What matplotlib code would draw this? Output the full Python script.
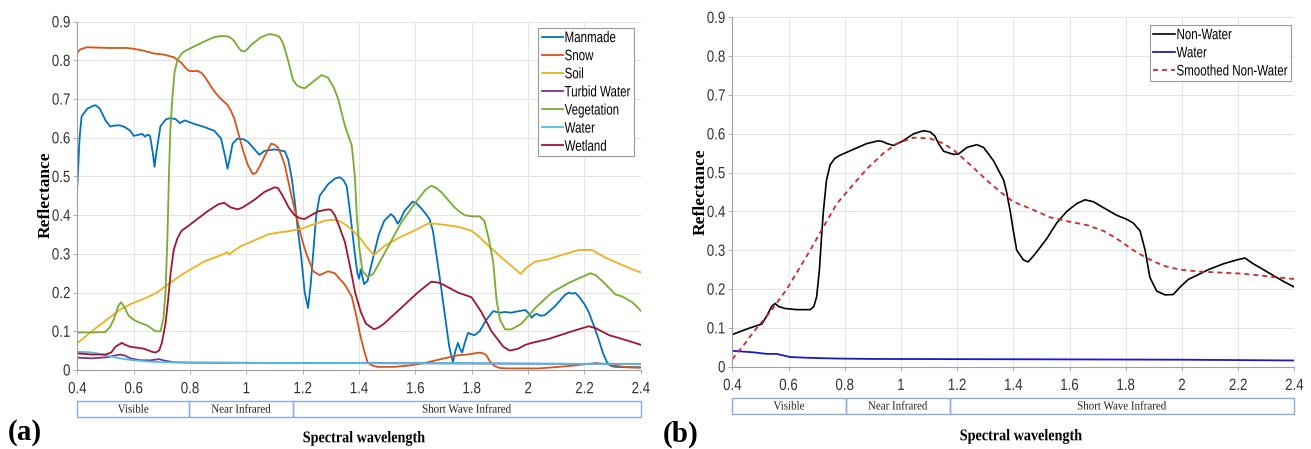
import matplotlib
matplotlib.use("Agg")
import matplotlib.pyplot as plt
import matplotlib.transforms as mtransforms
from matplotlib.patches import Rectangle
from matplotlib.patheffects import AbstractPathEffect

# ---- data ----
manmade_wl = [0.40, 0.408, 0.415, 0.435, 0.457, 0.465, 0.48, 0.50, 0.517, 0.535, 0.552, 0.57, 0.588, 0.60,
              0.612, 0.63, 0.64, 0.65, 0.658, 0.668, 0.674, 0.68, 0.695, 0.715, 0.731, 0.749, 0.764, 0.781,
              0.814, 0.85, 0.886, 0.91, 0.925, 0.933, 0.942, 0.951, 0.969, 0.99, 1.005, 1.029, 1.046, 1.064,
              1.10, 1.136, 1.148, 1.16, 1.171, 1.183, 1.195, 1.207, 1.219, 1.228, 1.237, 1.248, 1.26, 1.29,
              1.315, 1.332, 1.345, 1.356, 1.366, 1.374, 1.385, 1.394, 1.40, 1.406, 1.412, 1.418, 1.43, 1.453,
              1.47, 1.489, 1.513, 1.525, 1.537, 1.548, 1.56, 1.59, 1.605, 1.62, 1.635, 1.65, 1.662, 1.674,
              1.69, 1.703, 1.72, 1.733, 1.742, 1.751, 1.758, 1.766, 1.775, 1.787, 1.80, 1.81, 1.828, 1.852,
              1.876, 1.90, 1.918, 1.94, 1.953, 1.975, 1.989, 2.00, 2.013, 2.022, 2.03, 2.045, 2.06, 2.096,
              2.132, 2.145, 2.156, 2.168, 2.18, 2.20, 2.215, 2.233, 2.25, 2.265, 2.28, 2.295, 2.31, 2.35, 2.40]
manmade = [0.478, 0.60, 0.655, 0.675, 0.683, 0.684, 0.675, 0.645, 0.629, 0.632, 0.632, 0.627, 0.618, 0.605,
           0.607, 0.61, 0.603, 0.608, 0.605, 0.56, 0.525, 0.56, 0.63, 0.648, 0.651, 0.648, 0.638, 0.645,
           0.636, 0.628, 0.618, 0.598, 0.55, 0.52, 0.55, 0.585, 0.598, 0.596, 0.59, 0.57, 0.556, 0.566,
           0.57, 0.565, 0.545, 0.50, 0.44, 0.36, 0.29, 0.20, 0.16, 0.22, 0.30, 0.40, 0.45, 0.48,
           0.495, 0.498, 0.49, 0.475, 0.42, 0.37, 0.30, 0.25, 0.236, 0.26, 0.24, 0.222, 0.23, 0.30,
           0.35, 0.385, 0.403, 0.395, 0.378, 0.39, 0.41, 0.435, 0.43, 0.418, 0.405, 0.39, 0.36, 0.30,
           0.22, 0.15, 0.06, 0.02, 0.05, 0.07, 0.055, 0.045, 0.07, 0.096, 0.092, 0.09, 0.10, 0.13,
           0.152, 0.148, 0.15, 0.148, 0.15, 0.153, 0.155, 0.148, 0.135, 0.142, 0.145, 0.14, 0.142, 0.165,
           0.195, 0.20, 0.197, 0.199, 0.19, 0.17, 0.15, 0.115, 0.08, 0.045, 0.02, 0.01, 0.008, 0.007, 0.007]

snow_wl = [0.40, 0.41, 0.433, 0.47, 0.517, 0.576, 0.60, 0.636, 0.671, 0.707, 0.743, 0.767, 0.785, 0.796,
           0.81, 0.826, 0.84, 0.85, 0.868, 0.886, 0.91, 0.933, 0.945, 0.957, 0.972, 0.987, 1.005, 1.023,
           1.035, 1.05, 1.07, 1.088, 1.10, 1.112, 1.124, 1.136, 1.148, 1.16, 1.183, 1.20, 1.213, 1.237,
           1.26, 1.275, 1.29, 1.314, 1.335, 1.35, 1.374, 1.39, 1.404, 1.418, 1.43, 1.445, 1.465, 1.525,
           1.584, 1.632, 1.703, 1.751, 1.787, 1.81, 1.828, 1.84, 1.852, 1.866, 1.882, 1.90, 1.93, 2.037,
           2.144, 2.203, 2.239, 2.27, 2.299, 2.34, 2.382, 2.40]
snow = [0.82, 0.828, 0.834, 0.833, 0.832, 0.832, 0.83, 0.825, 0.818, 0.815, 0.808, 0.795, 0.78, 0.773,
        0.772, 0.773, 0.768, 0.76, 0.74, 0.72, 0.70, 0.685, 0.67, 0.65, 0.61, 0.57, 0.53, 0.506,
        0.51, 0.53, 0.56, 0.585, 0.582, 0.575, 0.555, 0.53, 0.49, 0.45, 0.38, 0.33, 0.30, 0.255,
        0.245, 0.25, 0.255, 0.25, 0.232, 0.22, 0.19, 0.14, 0.09, 0.05, 0.02, 0.012, 0.008, 0.008,
        0.012, 0.018, 0.03, 0.038, 0.04, 0.043, 0.045, 0.043, 0.038, 0.02, 0.01, 0.005, 0.004, 0.004,
        0.01, 0.015, 0.018, 0.016, 0.012, 0.008, 0.006, 0.006]

soil_wl = [0.40, 0.451, 0.505, 0.55, 0.588, 0.64, 0.683, 0.719, 0.779, 0.85, 0.921, 0.933, 0.94, 0.95,
           0.96, 0.981, 1.029, 1.076, 1.112, 1.148, 1.195, 1.23, 1.255, 1.28, 1.302, 1.325, 1.338, 1.362,
           1.385, 1.404, 1.43, 1.453, 1.47, 1.489, 1.537, 1.596, 1.644, 1.67, 1.703, 1.751, 1.799, 1.825,
           1.846, 1.906, 1.975, 1.99, 2.025, 2.072, 2.132, 2.18, 2.227, 2.25, 2.275, 2.322, 2.37, 2.40]
soil = [0.069, 0.10, 0.13, 0.155, 0.17, 0.185, 0.20, 0.22, 0.25, 0.28, 0.30, 0.305, 0.298, 0.305,
        0.31, 0.32, 0.335, 0.35, 0.355, 0.358, 0.365, 0.374, 0.38, 0.386, 0.388, 0.386, 0.382, 0.37,
        0.355, 0.34, 0.315, 0.297, 0.308, 0.32, 0.34, 0.36, 0.378, 0.378, 0.375, 0.37, 0.36, 0.345,
        0.33, 0.29, 0.248, 0.262, 0.28, 0.286, 0.30, 0.31, 0.31, 0.30, 0.29, 0.275, 0.26, 0.252]

turbid_wl = [0.40, 0.45, 0.505, 0.552, 0.57, 0.588, 0.624, 0.66, 0.69, 0.71, 0.743, 0.80, 1.2, 1.8, 2.4]
turbid = [0.032, 0.03, 0.033, 0.04, 0.037, 0.03, 0.025, 0.025, 0.028, 0.024, 0.02, 0.019, 0.018, 0.017, 0.015]

veg_wl = [0.40, 0.45, 0.499, 0.515, 0.529, 0.545, 0.555, 0.565, 0.582, 0.60, 0.612, 0.648, 0.677, 0.695,
          0.705, 0.713, 0.72, 0.725, 0.73, 0.737, 0.745, 0.755, 0.77, 0.784, 0.826, 0.86, 0.886, 0.91,
          0.933, 0.945, 0.957, 0.97, 0.981, 0.993, 1.005, 1.017, 1.052, 1.082, 1.10, 1.118, 1.13, 1.148,
          1.165, 1.18, 1.195, 1.207, 1.22, 1.237, 1.267, 1.29, 1.31, 1.326, 1.35, 1.374, 1.385, 1.392,
          1.40, 1.412, 1.43, 1.45, 1.489, 1.549, 1.608, 1.635, 1.656, 1.675, 1.691, 1.715, 1.739, 1.755,
          1.775, 1.80, 1.828, 1.845, 1.86, 1.876, 1.888, 1.90, 1.918, 1.941, 1.977, 2.025, 2.084, 2.144,
          2.19, 2.221, 2.24, 2.263, 2.29, 2.31, 2.334, 2.37, 2.40]
veg = [0.097, 0.097, 0.098, 0.11, 0.13, 0.165, 0.175, 0.165, 0.14, 0.13, 0.125, 0.115, 0.10, 0.10,
       0.13, 0.20, 0.35, 0.50, 0.62, 0.70, 0.77, 0.80, 0.818, 0.825, 0.84, 0.852, 0.86, 0.863,
       0.862, 0.858, 0.85, 0.835, 0.825, 0.823, 0.83, 0.84, 0.86, 0.868, 0.866, 0.86, 0.845, 0.80,
       0.75, 0.735, 0.73, 0.728, 0.735, 0.745, 0.762, 0.755, 0.73, 0.70, 0.63, 0.58, 0.50, 0.40,
       0.32, 0.255, 0.241, 0.248, 0.30, 0.38, 0.44, 0.465, 0.476, 0.47, 0.46, 0.44, 0.42, 0.41,
       0.40, 0.397, 0.397, 0.385, 0.34, 0.28, 0.18, 0.13, 0.105, 0.105, 0.12, 0.16, 0.20, 0.225,
       0.24, 0.25, 0.245, 0.23, 0.21, 0.195, 0.19, 0.175, 0.153]

water_wl = [0.40, 0.44, 0.47, 0.517, 0.55, 0.60, 0.65, 0.695, 0.80, 1.2, 1.8, 2.4]
water = [0.047, 0.046, 0.043, 0.035, 0.03, 0.025, 0.022, 0.02, 0.019, 0.018, 0.017, 0.015]

wetland_wl = [0.40, 0.45, 0.50, 0.52, 0.535, 0.558, 0.57, 0.588, 0.636, 0.665, 0.677, 0.69, 0.70, 0.713,
              0.722, 0.731, 0.742, 0.755, 0.77, 0.79, 0.826, 0.862, 0.90, 0.921, 0.945, 0.969, 0.987, 1.029,
              1.064, 1.10, 1.112, 1.125, 1.136, 1.15, 1.171, 1.19, 1.207, 1.23, 1.255, 1.29, 1.30, 1.314,
              1.33, 1.35, 1.37, 1.386, 1.406, 1.424, 1.453, 1.47, 1.489, 1.549, 1.608, 1.656, 1.68, 1.70,
              1.751, 1.799, 1.834, 1.87, 1.912, 1.935, 1.965, 1.99, 2.013, 2.072, 2.156, 2.215, 2.24, 2.287,
              2.334, 2.37, 2.40]
wetland = [0.043, 0.04, 0.04, 0.045, 0.06, 0.07, 0.065, 0.06, 0.055, 0.047, 0.045, 0.05, 0.07, 0.12,
           0.18, 0.25, 0.31, 0.34, 0.36, 0.37, 0.39, 0.41, 0.428, 0.432, 0.42, 0.415, 0.42, 0.44,
           0.46, 0.472, 0.47, 0.455, 0.44, 0.42, 0.40, 0.392, 0.39, 0.40, 0.41, 0.415, 0.414, 0.40,
           0.37, 0.33, 0.26, 0.20, 0.15, 0.12, 0.105, 0.11, 0.12, 0.16, 0.20, 0.228, 0.226, 0.22,
           0.20, 0.188, 0.15, 0.10, 0.06, 0.05, 0.055, 0.065, 0.07, 0.08, 0.10, 0.113, 0.108, 0.09,
           0.08, 0.072, 0.065]

nonwater_wl = [0.40, 0.463, 0.505, 0.522, 0.54, 0.552, 0.565, 0.588, 0.629, 0.677, 0.69, 0.70, 0.71, 0.717,
               0.724, 0.735, 0.748, 0.765, 0.784, 0.831, 0.879, 0.92, 0.935, 0.95, 0.974, 1.003, 1.045, 1.08,
               1.104, 1.12, 1.134, 1.152, 1.187, 1.205, 1.235, 1.27, 1.294, 1.33, 1.366, 1.376, 1.389, 1.40,
               1.412, 1.436, 1.453, 1.477, 1.519, 1.554, 1.59, 1.625, 1.655, 1.685, 1.72, 1.744, 1.768, 1.803,
               1.827, 1.851, 1.869, 1.886, 1.91, 1.94, 1.969, 1.993, 2.023, 2.052, 2.094, 2.147, 2.195, 2.224,
               2.254, 2.29, 2.325, 2.361, 2.40]
nonwater = [0.083, 0.10, 0.11, 0.13, 0.155, 0.163, 0.155, 0.15, 0.147, 0.147, 0.155, 0.18, 0.25, 0.33,
            0.40, 0.48, 0.52, 0.537, 0.545, 0.56, 0.575, 0.582, 0.58, 0.575, 0.57, 0.58, 0.60, 0.608,
            0.605, 0.595, 0.575, 0.555, 0.547, 0.548, 0.565, 0.572, 0.565, 0.53, 0.48, 0.45, 0.40, 0.35,
            0.30, 0.275, 0.27, 0.29, 0.33, 0.37, 0.40, 0.42, 0.43, 0.425, 0.41, 0.40, 0.39, 0.38,
            0.37, 0.35, 0.30, 0.23, 0.195, 0.185, 0.186, 0.205, 0.225, 0.235, 0.25, 0.265, 0.275, 0.28,
            0.265, 0.25, 0.235, 0.22, 0.205]

water_b_wl = [0.40, 0.475, 0.522, 0.558, 0.605, 0.665, 0.712, 0.772, 0.90, 1.5, 2.0, 2.4]
water_b = [0.041, 0.037, 0.033, 0.033, 0.025, 0.023, 0.022, 0.021, 0.02, 0.019, 0.018, 0.016]

smooth_wl = [0.40, 0.445, 0.487, 0.534, 0.594, 0.677, 0.724, 0.772, 0.819, 0.879, 0.938, 0.985, 1.045, 1.104,
             1.152, 1.193, 1.247, 1.306, 1.354, 1.40, 1.471, 1.53, 1.59, 1.661, 1.72, 1.768, 1.827, 1.874,
             1.934, 1.993, 2.064, 2.124, 2.207, 2.278, 2.337, 2.40]
smooth = [0.019, 0.06, 0.10, 0.14, 0.20, 0.30, 0.36, 0.42, 0.46, 0.51, 0.55, 0.575, 0.59, 0.588,
          0.575, 0.555, 0.52, 0.48, 0.45, 0.425, 0.404, 0.385, 0.375, 0.365, 0.35, 0.33, 0.30, 0.28,
          0.26, 0.25, 0.245, 0.243, 0.24, 0.235, 0.23, 0.226]

band_names = ['Visible', 'Near Infrared', 'Short Wave Infrared']
band_edges_a = [0.4, 0.798, 1.165, 2.4]
band_edges_b = [0.4, 0.805, 1.173, 2.4]

left_series = [
    ('Manmade', manmade_wl, manmade, '#0072BD'),
    ('Snow', snow_wl, snow, '#D95319'),
    ('Soil', soil_wl, soil, '#EDB120'),
    ('Turbid Water', turbid_wl, turbid, '#7E2F8E'),
    ('Vegetation', veg_wl, veg, '#77AC30'),
    ('Water', water_wl, water, '#4DBEEE'),
    ('Wetland', wetland_wl, wetland, '#A2142F'),
]

plt.rcParams['font.family'] = ['Liberation Sans', 'DejaVu Sans']
serif = ['Liberation Serif', 'DejaVu Serif']


class Tall(AbstractPathEffect):
    """draw glyphs taller than wide (the source figure was squeezed sideways)"""

    def __init__(self, sy=1.22):
        super().__init__()
        self._sy = sy

    def draw_path(self, renderer, gc, tpath, affine, rgbFace=None):
        # glyph paths are 100 units per em, baseline at 0: stretch around mid cap height
        stretch = mtransforms.Affine2D().translate(0, -36).scale(1, self._sy).translate(0, 36)
        renderer.draw_path(gc, tpath, stretch + affine, rgbFace)


fig = plt.figure(figsize=(13.11, 4.49), dpi=100)
ax_a = fig.add_axes([0.059, 0.176, 0.4298, 0.7757])
ax_b = fig.add_axes([0.5586, 0.1833, 0.4287, 0.778])


def style_axes(ax):
    ax.set_xlim(0.4, 2.4)
    ax.set_ylim(0, 0.9)
    ax.set_xticks([0.4, 0.6, 0.8, 1, 1.2, 1.4, 1.6, 1.8, 2, 2.2, 2.4])
    ax.set_xticklabels(['0.4', '0.6', '0.8', '1', '1.2', '1.4', '1.6', '1.8', '2', '2.2', '2.4'])
    ax.set_yticks([0, 0.1, 0.2, 0.3, 0.4, 0.5, 0.6, 0.7, 0.8, 0.9])
    ax.set_yticklabels(['0', '0.1', '0.2', '0.3', '0.4', '0.5', '0.6', '0.7', '0.8', '0.9'])
    ax.grid(True, color='#e4e4e4', linewidth=0.7)
    ax.set_axisbelow(True)
    for s in ['top', 'right']:
        ax.spines[s].set_visible(False)
    for s in ['left', 'bottom']:
        ax.spines[s].set_color('#a0a0a0')
        ax.spines[s].set_linewidth(0.8)
    ax.tick_params(direction='out', length=3, width=0.6, color='#a0a0a0',
                   labelsize=9.6, labelcolor='#333333')
    ax.tick_params(axis='x', pad=6.5)
    ax.tick_params(axis='y', pad=2)
    for lbl in ax.get_xticklabels() + ax.get_yticklabels():
        lbl.set_path_effects([Tall(1.22)])


def draw_bands(ax, edges):
    trans = mtransforms.blended_transform_factory(ax.transData, ax.transAxes)
    for i, name in enumerate(band_names):
        x0, x1 = edges[i], edges[i + 1]
        ax.add_patch(Rectangle((x0, -0.135), x1 - x0, 0.045, transform=trans,
                               fill=False, edgecolor='#8eaadb', linewidth=1.0, clip_on=False))
        ax.text((x0 + x1) / 2, -0.114, name, transform=trans, ha='center', va='center',
                fontsize=7.9, family=serif, color='#222222', clip_on=False,
                path_effects=[Tall(1.12)])


def make_legend(ax, anchor):
    leg = ax.legend(loc='upper right', bbox_to_anchor=anchor, fontsize=8.3,
                    handlelength=1.85, handletextpad=0.15, labelspacing=0.53,
                    borderpad=0.3, borderaxespad=0, fancybox=False, framealpha=1)
    leg.get_frame().set_edgecolor('#999999')
    leg.get_frame().set_linewidth(0.8)
    for t in leg.get_texts():
        t.set_path_effects([Tall(1.32)])


# (a)
style_axes(ax_a)
for name, wl, vals, col in left_series:
    ax_a.plot(wl, vals, color=col, linewidth=1.3, label=name)
make_legend(ax_a, (0.988, 0.981))
draw_bands(ax_a, band_edges_a)

# (b)
style_axes(ax_b)
ax_b.plot(nonwater_wl, nonwater, color='black', linewidth=1.2, label='Non-Water')
ax_b.plot(water_b_wl, water_b, color='#1a1acc', linewidth=1.3, label='Water')
ax_b.plot(smooth_wl, smooth, color='#cc2a2a', linewidth=1.3, linestyle=(0, (2.8, 2.2)),
          label='Smoothed Non-Water')
make_legend(ax_b, (0.994, 0.977))
draw_bands(ax_b, band_edges_b)

# labels
fig.text(46 / 1311, 1 - 195 / 449, 'Reflectance', rotation=90, ha='center', va='center',
         fontsize=12.5, fontweight='bold', family=serif)
fig.text(701 / 1311, 1 - 192 / 449, 'Reflectance', rotation=90, ha='center', va='center',
         fontsize=12.5, fontweight='bold', family=serif)
fig.text(364 / 1311, 1 - 438 / 449, 'Spectral wavelength', ha='center', va='center',
         fontsize=10.2, fontweight='bold', family=serif, path_effects=[Tall(1.15)])
fig.text(1021 / 1311, 1 - 436 / 449, 'Spectral wavelength', ha='center', va='center',
         fontsize=10.2, fontweight='bold', family=serif, path_effects=[Tall(1.15)])
fig.text(25 / 1311, 1 - 433 / 449, '(a)', ha='center', va='center',
         fontsize=21, fontweight='bold', family=serif)
fig.text(681 / 1311, 1 - 434 / 449, '(b)', ha='center', va='center',
         fontsize=21, fontweight='bold', family=serif)

fig.savefig('out.png', dpi=100, facecolor='white')
